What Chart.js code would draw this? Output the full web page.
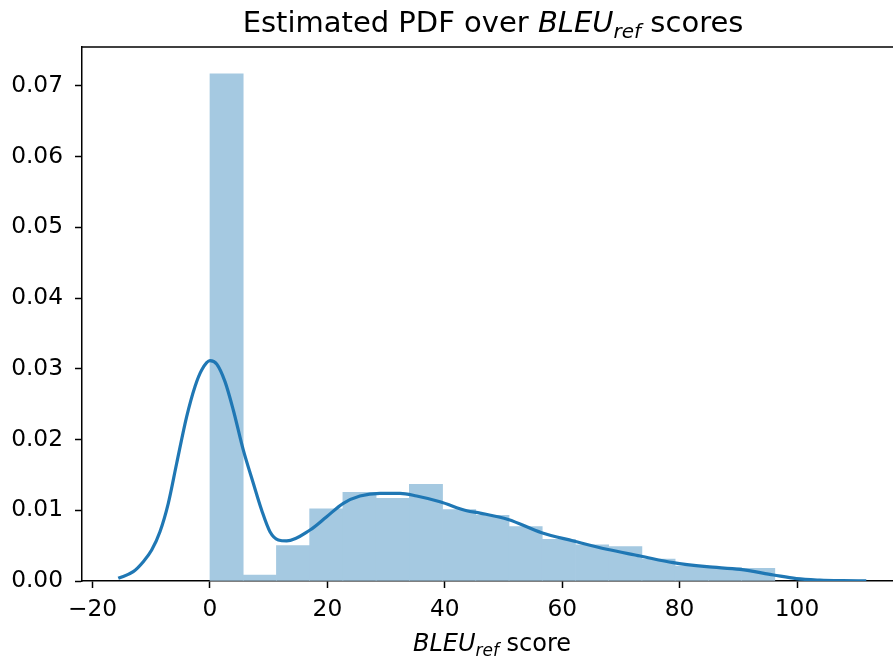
<!DOCTYPE html>
<html>
<head>
<meta charset="utf-8">
<script src="https://cdn.jsdelivr.net/npm/chart.js@4/dist/chart.umd.min.js"></script>
<style>
  html, body { margin: 0; padding: 0; background: #fff; }
  #wrap { width: 893px; height: 656px; position: relative; }
</style>
</head>
<body>
<div id="wrap"><canvas id="chart-pdf"></canvas></div>
<script>
// histogram bins (centers) and densities
const binCenters = [2.83, 8.49, 14.15, 19.81, 25.47, 31.13, 36.79, 42.45, 48.11,
  53.77, 59.43, 65.09, 70.75, 76.41, 82.07, 87.73, 93.39];
const binDensity = [0.0717, 0.00085, 0.0050, 0.0102, 0.01254, 0.0117, 0.01367,
  0.0101, 0.0093, 0.0077, 0.0059, 0.0051, 0.00485, 0.0031, 0.0021, 0.0019, 0.0018];

// kde curve
const kdeX = [-15.62, -13.07, -11.36, -9.93, -8.52, -7.10, -5.67, -3.97, -2.56, -1.41,
  0, 1.14, 2.56, 3.97, 5.67, 7.38, 8.81, 10.22, 11.64, 13.07, 17.04, 19.88, 22.71,
  25.55, 28.96, 32.37, 35.21, 39.18, 43.73, 46.0, 50.8, 56.5, 61.9, 67.6, 73.3,
  78.9, 84.6, 90.3, 96.0, 99.9, 103.9, 107.8, 111.8];
const kdeY = [0.00038, 0.00132, 0.00273, 0.00438, 0.00697, 0.01099, 0.01665, 0.02324,
  0.02748, 0.02984, 0.03116, 0.03069, 0.02819, 0.02418, 0.01853, 0.01382, 0.0100,
  0.00697, 0.0058, 0.00566, 0.00721, 0.00909, 0.01099, 0.01202, 0.0124, 0.0124,
  0.01202, 0.01121, 0.00994, 0.0096, 0.0087, 0.00683, 0.00566, 0.00448, 0.00354,
  0.00259, 0.00202, 0.00165, 0.00085, 0.00033, 0.00012, 0.00004, 0.00001];

const xTicks = [-20, 0, 20, 40, 60, 80, 100];
const yTicks = [0, 0.01, 0.02, 0.03, 0.04, 0.05, 0.06, 0.07];

const FONT = "'DejaVu Sans', sans-serif";

// draws a line of text made of pieces with different fonts, centered on cx
function drawRich(ctx, pieces, cx, baseline) {
  ctx.save();
  ctx.textBaseline = "alphabetic";
  ctx.textAlign = "left";
  ctx.fillStyle = "#000";
  let total = 0;
  pieces.forEach((p) => {
    ctx.font = p.font;
    p.w = ctx.measureText(p.text).width;
    total += p.w;
  });
  let x = cx - total / 2;
  pieces.forEach((p) => {
    ctx.font = p.font;
    ctx.fillText(p.text, x, baseline + (p.dy || 0));
    x += p.w;
  });
  ctx.restore();
}

const textPlugin = {
  id: "richText",
  afterDraw(chart) {
    const ctx = chart.ctx;
    const area = chart.chartArea;
    // top spine
    ctx.save();
    ctx.strokeStyle = "#000";
    ctx.lineWidth = 1.5;
    ctx.beginPath();
    ctx.moveTo(area.left, area.top);
    ctx.lineTo(area.right, area.top);
    ctx.stroke();
    ctx.restore();

    drawRich(ctx, [
      { text: "Estimated PDF over ", font: `29px ${FONT}` },
      { text: "BLEU", font: `italic 29px ${FONT}` },
      { text: "ref", font: `italic 20px ${FONT}`, dy: 6 },
      { text: " scores", font: `29px ${FONT}` },
    ], 493, 32);

    drawRich(ctx, [
      { text: "BLEU", font: `italic 24px ${FONT}` },
      { text: "ref", font: `italic 17px ${FONT}`, dy: 5 },
      { text: " score", font: `24px ${FONT}` },
    ], 492, 651);
  },
};

const chartData = {
  datasets: [
    {
      type: "line",
      data: kdeX.map((x, i) => ({ x: x, y: kdeY[i] })),
      borderColor: "#1f77b4",
      borderWidth: 3.2,
      pointRadius: 0,
      fill: false,
      cubicInterpolationMode: "monotone",
      order: 0,
    },
    {
      type: "bar",
      data: binCenters.map((x, i) => ({ x: x, y: binDensity[i] })),
      backgroundColor: "rgb(165,201,225)",
      borderWidth: 0,
      barPercentage: 1,
      categoryPercentage: 1,
      order: 1,
    },
  ],
};

const config = {
  data: chartData,
  options: {
    responsive: false,
    animation: false,
    layout: { padding: { top: 47, right: 0, left: 0, bottom: 0 } },
    plugins: {
      legend: { display: false },
      tooltip: { enabled: false },
      title: { display: false },
    },
    scales: {
      x: {
        type: "linear",
        min: -21.8,
        max: 116.35,
        offset: false,
        grid: { offset: false, drawOnChartArea: false, drawTicks: true, tickLength: 7, tickWidth: 1.5, tickColor: "#000" },
        border: { display: true, color: "#000", width: 1.5 },
        ticks: {
          color: "#000",
          font: { family: FONT, size: 23.3 },
          padding: 8,
          maxRotation: 0,
          autoSkip: false,
          callback: (v) => String(v).replace("-", "\u2212"),
        },
        afterBuildTicks: (scale) => {
          scale.ticks = xTicks.map((v) => ({ value: v }));
        },
        afterFit: (scale) => {
          scale.height = 75;
        },
      },
      y: {
        type: "linear",
        min: 0,
        max: 0.0755,
        grid: { drawOnChartArea: false, drawTicks: true, tickLength: 7, tickWidth: 1.5, tickColor: "#000" },
        border: { display: true, color: "#000", width: 1.5 },
        ticks: {
          color: "#000",
          font: { family: FONT, size: 23.3 },
          padding: 12,
          callback: (v) => v.toFixed(2),
        },
        afterBuildTicks: (scale) => {
          scale.ticks = yTicks.map((v) => ({ value: v }));
        },
        afterFit: (scale) => {
          scale.width = 82;
        },
      },
    },
  },
  plugins: [textPlugin],
};

const canvas = document.getElementById("chart-pdf");
canvas.width = 893;
canvas.height = 656;
let chart = new Chart(canvas, config);
</script>
</body>
</html>
